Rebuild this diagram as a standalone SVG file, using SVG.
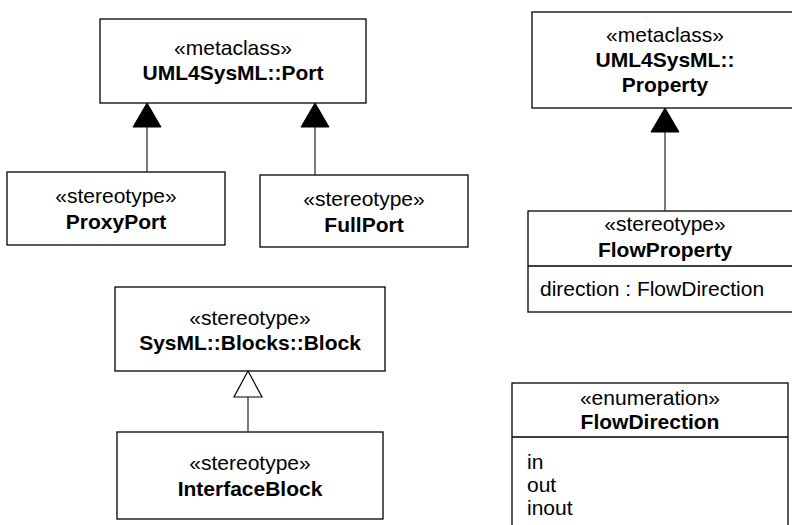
<svg xmlns="http://www.w3.org/2000/svg" width="792" height="525" viewBox="0 0 792 525">
<defs>
<style>
.box{fill:#fff;stroke:#000;stroke-width:1.3}
.st{font-family:"Liberation Sans",Arial,sans-serif;font-size:21px;text-anchor:middle;fill:#000}
.nm{font-family:"Liberation Sans",Arial,sans-serif;font-size:21px;font-weight:bold;text-anchor:middle;fill:#000}
.at{font-family:"Liberation Sans",Arial,sans-serif;font-size:21px;fill:#000}
.ln{stroke:#222;stroke-width:1.2;fill:none}
.tri{fill:#000;stroke:#000;stroke-width:1}
.htri{fill:#fff;stroke:#000;stroke-width:1.2}
</style>
</defs>
<rect width="792" height="525" fill="#fff"/>
<g id="port">
<rect class="box" x="100" y="19" width="266" height="84"/>
<text class="st" x="233" y="55">«metaclass»</text>
<text class="nm" x="233" y="80">UML4SysML::Port</text>
</g>
<g id="proxyport">
<rect class="box" x="7" y="172" width="218" height="73"/>
<text class="st" x="116" y="203">«stereotype»</text>
<text class="nm" x="116" y="229">ProxyPort</text>
</g>
<g id="fullport">
<rect class="box" x="260" y="175" width="208" height="72"/>
<text class="st" x="364" y="206">«stereotype»</text>
<text class="nm" x="364" y="232">FullPort</text>
</g>
<g id="property">
<rect class="box" x="532" y="12" width="270" height="96"/>
<text class="st" x="665" y="42">«metaclass»</text>
<text class="nm" x="665" y="67">UML4SysML::</text>
<text class="nm" x="665" y="92">Property</text>
</g>
<g id="flowproperty">
<rect class="box" x="528" y="211" width="270" height="101"/>
<line class="box" x1="528" y1="266" x2="798" y2="266"/>
<text class="st" x="665" y="231">«stereotype»</text>
<text class="nm" x="665" y="257">FlowProperty</text>
<text class="at" x="540" y="296">direction : FlowDirection</text>
</g>
<g id="block">
<rect class="box" x="115" y="287" width="270" height="84"/>
<text class="st" x="250" y="325">«stereotype»</text>
<text class="nm" x="250" y="350">SysML::Blocks::Block</text>
</g>
<g id="interfaceblock">
<rect class="box" x="117" y="432" width="266" height="87"/>
<text class="st" x="250" y="470">«stereotype»</text>
<text class="nm" x="250" y="496">InterfaceBlock</text>
</g>
<g id="flowdirection">
<rect class="box" x="512" y="383" width="276" height="150"/>
<line class="box" x1="512" y1="437" x2="788" y2="437"/>
<text class="st" x="650" y="405">«enumeration»</text>
<text class="nm" x="650" y="429">FlowDirection</text>
<text class="at" x="527" y="469">in</text>
<text class="at" x="527" y="492">out</text>
<text class="at" x="527" y="515">inout</text>
</g>
<g id="connectors">
<line class="ln" x1="147" y1="125" x2="147" y2="172"/>
<polygon class="tri" points="147,103 133,127 161,127"/>
<line class="ln" x1="315" y1="125" x2="315" y2="175"/>
<polygon class="tri" points="315,103 301,127 329,127"/>
<line class="ln" x1="665" y1="132" x2="665" y2="211"/>
<polygon class="tri" points="665,108 651,132 679,132"/>
<line class="ln" x1="248" y1="397" x2="248" y2="432"/>
<polygon class="htri" points="248,371 234,397 262,397"/>
</g>
</svg>
